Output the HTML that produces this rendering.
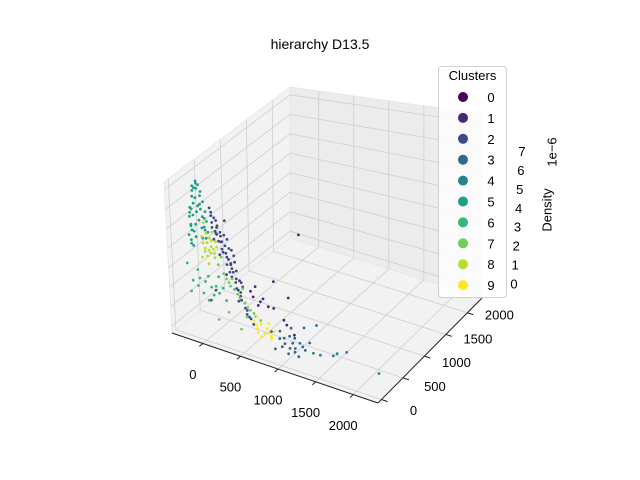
<!DOCTYPE html>
<html><head><meta charset="utf-8"><style>
html,body{margin:0;padding:0;background:#fff}
svg{display:block;font-family:"Liberation Sans","DejaVu Sans",sans-serif}
</style></head><body>
<svg id="chart" width="640" height="480" viewBox="0 0 640 480">
<text x="320" y="49" font-size="14" text-anchor="middle">hierarchy D13.5</text>
<g id="panes"></g>
<g id="grid"></g>
<g id="axes"></g>
<g id="points"></g>
<g id="zlabels"></g>
<text transform="translate(553,152) rotate(-90)" font-size="13" text-anchor="middle" dominant-baseline="middle">1e−6</text>
<text transform="translate(548,210) rotate(-90)" font-size="13" text-anchor="middle" dominant-baseline="middle">Density</text>
<g id="legend">
<rect x="438.5" y="66.5" width="68" height="231" rx="3" fill="#fff" fill-opacity="0.8" stroke="#d0d0d0"/>
<text x="472.5" y="80" font-size="13" text-anchor="middle">Clusters</text>
</g>
</svg>
<script>
const xTicks=[0,500,1000,1500,2000];
const yTicks=[0,500,1000,1500,2000];
const zTicks=[0,1,2,3,4,5,6,7];
const clusterLabels=['0','1','2','3','4','5','6','7','8','9'];
const clusterColors=['#440154','#482878','#3e4989','#31688e','#26828e','#1f9e89','#35b779','#6ece58','#b5de2b','#fde725'];
// points: [x, y, density (×1e-6)]
const c0=[];
const c1=[[594,65,2.27],[688,65,2.13],[790,65,2.0],[621,65,2.78],[722,65,2.3],[380,821,0.05],[617,667,0.05],[404,1092,0.05],[61,1304,0.05],[889,460,0.05],[-262,2300,0.05],[700,597,0.05],[560,65,2.5],[650,80,1.9]];
const c2=[[52,65,6.1],[106,65,5.65],[146,65,5.29],[187,65,4.82],[241,65,4.39],[282,65,3.77],[323,65,3.36],[377,65,2.92],[431,65,2.32],[485,65,1.87],[539,65,1.27],[594,65,0.98],[160,65,4.55],[119,65,5.0],[214,65,4.06],[268,65,4.72],[295,65,3.17],[350,65,4.0],[404,65,1.88],[458,65,2.61],[512,65,1.55],[79,65,5.4],[241,65,5.6],[418,65,2.87],[323,65,4.24],[106,65,2.11],[38,65,1.55],[180,65,5.0],[310,65,3.6],[380,65,3.3],[70,65,5.9],[130,65,4.9],[60,80,5.7],[90,50,5.2],[120,80,5.5],[150,50,4.9],[180,80,4.5],[210,50,4.6],[240,80,4.0],[270,50,3.9],[300,80,3.5],[330,50,3.0],[360,80,2.7],[390,50,2.5],[420,80,2.1],[450,50,2.0],[480,80,1.6],[520,50,1.4],[200,65,4.2],[260,65,3.5],[340,65,3.2],[400,65,2.4],[140,65,5.2],[230,65,4.9],[290,65,4.3],[360,65,3.7],[440,65,2.8],[560,65,1.2],[100,65,4.6],[170,65,3.9],[250,65,3.0]];
const c3=[[782,315,0.05],[889,256,0.05],[853,412,0.05],[1043,228,0.05],[1031,348,0.05],[1035,95,0.05],[1162,253,0.05],[1166,103,0.05],[1126,409,0.05],[623,391,0.05],[896,184,0.05],[778,566,0.05],[902,646,0.05],[1001,761,0.05],[853,106,0.05],[925,407,0.05],[960,307,0.05],[1080,162,0.05],[820,350,0.05],[990,200,0.05],[1100,300,0.05],[700,450,0.05]];
const c4=[[1363,255,0.05],[1499,317,0.05],[1513,377,0.05],[1596,455,0.05],[2139,269,0.05],[1273,248,0.05]];
const c5=[[-192,65,4.34],[-192,65,5.11],[-179,65,5.9],[-165,65,6.54],[-138,65,6.99],[-111,65,7.23],[-84,65,7.16],[-57,65,6.84],[-30,65,6.35],[-2,65,5.88],[11,65,5.4],[25,65,4.88],[-111,65,5.8],[-152,65,4.8],[-84,65,5.4],[-43,65,4.54],[-219,65,4.57],[-165,65,4.07],[-125,65,6.49],[-205,65,5.5],[-70,65,6.2],[-150,65,6.2],[-20,65,5.1],[-200,80,5.0],[-185,50,6.0],[-170,80,6.8],[-150,50,7.1],[-125,80,7.3],[-100,50,7.0],[-75,80,6.6],[-50,50,6.0],[-25,80,5.5],[0,50,5.0],[-190,80,4.8],[-120,50,5.2],[-60,80,5.0],[-180,50,4.2],[-140,80,4.5],[10,50,4.6],[-200,65,5.7],[-160,65,5.6],[-95,65,6.1],[-40,65,5.6]];
const c6=[[-260,65,3.1],[-192,65,2.3],[-125,65,2.1],[-57,65,1.8],[11,65,2.7],[79,65,1.84],[146,65,2.8],[241,65,1.74],[-125,65,2.9],[350,65,2.39],[-219,65,1.73],[11,65,1.51],[110,65,2.3],[-100,65,2.5],[50,65,2.2],[150,65,2.0],[200,65,2.3],[-30,65,2.4]];
const c7=[[146,65,3.39],[214,65,3.02],[282,65,2.64],[350,65,2.39],[418,65,2.05],[485,65,1.87],[553,65,1.6],[621,65,1.38],[688,65,1.26],[323,65,2.87],[458,65,2.52],[187,65,3.8],[250,65,2.8],[390,65,2.2],[520,65,1.7],[600,65,1.5],[300,65,2.5],[-25,306,0.05],[303,262,0.05],[-12,492,0.05],[218,513,0.05]];
const c8=[[-57,65,4.6],[-16,65,4.06],[11,65,4.36],[52,65,3.89],[79,65,4.94],[106,65,3.7],[-57,65,3.58],[25,65,3.33],[132,65,4.24],[-30,65,5.3],[66,65,4.5],[0,65,4.8],[-40,65,4.3],[30,65,4.0],[60,65,4.2],[90,65,4.1],[-20,65,3.9],[40,65,4.6],[10,65,3.7],[100,65,3.9],[120,65,4.5]];
const c9=[[313,574,0.05],[434,474,0.05],[580,313,0.05],[550,420,0.05],[706,266,0.05],[455,359,0.05],[587,240,0.05],[331,484,0.05],[510,522,0.05],[652,410,0.05],[500,300,0.05],[620,350,0.05],[400,420,0.05],[680,300,0.05]];
const clusters=[c0,c1,c2,c3,c4,c5,c6,c7,c8,c9];

const NS='http://www.w3.org/2000/svg';
const X0=-410,X1=2330,Y0=-80,Y1=2340,Z0=-0.35,Z1=7.4;
const A=[172,333],B=[378,403],C=[482,298],D=[290,238];
const At=[164,182],Bt=[383,213],Ct=[482,114],Dt=[290,87];
function bil(p,q,r,s,u,v){return [p[0]*(1-u)*(1-v)+q[0]*u*(1-v)+r[0]*u*v+s[0]*(1-u)*v,p[1]*(1-u)*(1-v)+q[1]*u*(1-v)+r[1]*u*v+s[1]*(1-u)*v];}
function projN(u,v,w){const b=bil(A,B,C,D,u,v),t=bil(At,Bt,Ct,Dt,u,v);return [b[0]+(t[0]-b[0])*w,b[1]+(t[1]-b[1])*w];}
function xs(x){return (x-X0)/(X1-X0);}
function ys(y){return (y-Y0)/(Y1-Y0);}
function zs(z){return (z-Z0)/(Z1-Z0);}
function proj(x,y,z){return projN(xs(x),ys(y),zs(z));}
function mk(tag,parent){const e=document.createElementNS(NS,tag);parent.appendChild(e);return e;}
function poly(parent,pts,fill,name){const e=mk('polygon',parent);e.setAttribute('points',pts.map(p=>p.join(',')).join(' '));e.setAttribute('fill',fill);e.setAttribute('stroke','#e6e6e6');e.setAttribute('stroke-width','0.8');

}
function line(parent,p,q,col,w,name){const e=mk('line',parent);e.setAttribute('x1',p[0]);e.setAttribute('y1',p[1]);e.setAttribute('x2',q[0]);e.setAttribute('y2',q[1]);e.setAttribute('stroke',col);e.setAttribute('stroke-width',w);

}
function txt(parent,p,s,name){const e=mk('text',parent);e.setAttribute('x',p[0]);e.setAttribute('y',p[1]);e.setAttribute('font-size','13');e.setAttribute('text-anchor','middle');e.setAttribute('dominant-baseline','middle');e.textContent=s;

}

const panes=document.getElementById('panes');
poly(panes,[projN(0,0,0),projN(1,0,0),projN(1,1,0),projN(0,1,0)],'#f2f2f2','floor-pane');
poly(panes,[projN(0,0,0),projN(0,1,0),projN(0,1,1),projN(0,0,1)],'#f2f2f2','left-pane');
poly(panes,[projN(0,1,0),projN(1,1,0),projN(1,1,1),projN(0,1,1)],'#ececec','back-pane');

const grid=document.getElementById('grid');
const gc='#cfcfcf';
xTicks.forEach(t=>{const u=xs(t);line(grid,projN(u,0,0),projN(u,1,0),gc,0.8,'x-gridline');line(grid,projN(u,1,0),projN(u,1,1),gc,0.8,'x-gridline');});
yTicks.forEach(t=>{const v=ys(t);line(grid,projN(0,v,0),projN(1,v,0),gc,0.8,'y-gridline');line(grid,projN(0,v,0),projN(0,v,1),gc,0.8,'y-gridline');});
zTicks.forEach(t=>{const w=zs(t);line(grid,projN(0,0,w),projN(0,1,w),gc,0.8,'z-gridline');line(grid,projN(0,1,w),projN(1,1,w),gc,0.8,'z-gridline');});

const axes=document.getElementById('axes');
line(axes,projN(0,0,0),projN(1,0,0),'#222',1,'x-axis-line');
line(axes,projN(1,0,0),projN(1,1,0),'#222',1,'y-axis-line');
xTicks.forEach(t=>{const u=xs(t);const p=projN(u,0,0),q=projN(u,-0.03,0);line(axes,p,q,'#222',1,'x-tick');txt(axes,[p[0]-10,p[1]+32],String(t),'x-tick-label');});
yTicks.forEach((t,i)=>{const v=ys(t);const p=projN(1,v,0),q=projN(1.03,v,0);line(axes,p,q,'#222',1,'y-tick');txt(axes,[p[0]+32,p[1]+12-i*2.2],String(t),'y-tick-label');});

const zl=document.getElementById('zlabels');
zTicks.forEach(t=>{txt(zl,[514+t*1.15,285-t*18.9],String(t),'z-tick-label');});

const pts=document.getElementById('points');
clusters.forEach((arr,ci)=>{arr.forEach(d=>{const p=proj(d[0],d[1],d[2]);const c=mk('circle',pts);c.setAttribute('cx',p[0].toFixed(1));c.setAttribute('cy',p[1].toFixed(1));c.setAttribute('r','1.4');c.setAttribute('fill',clusterColors[ci]);

});});

const lg=document.getElementById('legend');
clusterLabels.forEach((s,i)=>{const y=97+i*20.9;const c=mk('circle',lg);c.setAttribute('cx',463);c.setAttribute('cy',y);c.setAttribute('r',5);c.setAttribute('fill',clusterColors[i]);


const t=mk('text',lg);t.setAttribute('x',491);t.setAttribute('y',y+5);t.setAttribute('font-size','13');t.setAttribute('text-anchor','middle');t.textContent=s;

});
</script>
</body></html>
